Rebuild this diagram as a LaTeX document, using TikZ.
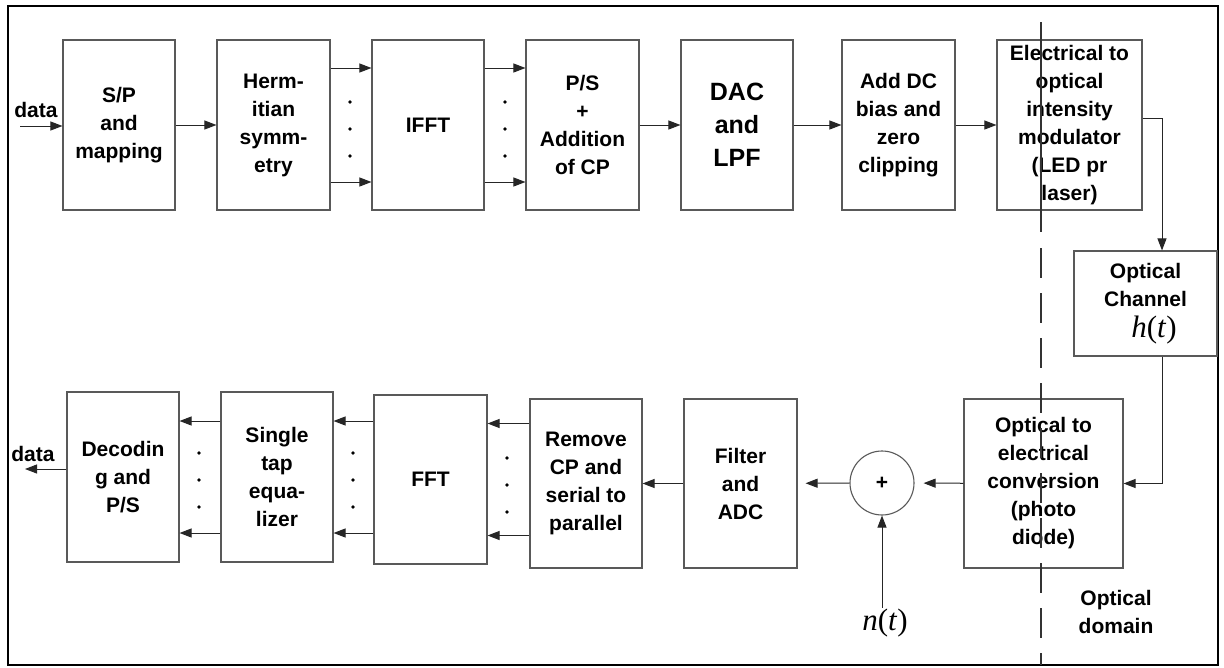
\documentclass[tikz,border=0pt]{standalone}
\usepackage{fontspec}
\setmainfont{Liberation Sans}
\newfontfamily\sigfont{Liberation Serif}
\usetikzlibrary{arrows.meta}

\newcommand{\sigof}[1]{{\sigfont\mdseries\fontsize{31}{31}\selectfont\textit{#1}(\textit{t})}}

\tikzset{
  blk/.style = {draw = black!65, line width = 1.1pt, rectangle, align = center, inner sep = 0pt, font = \bfseries\fontsize{21}{28}\selectfont},
  lbl/.style = {align = center, inner sep = 1pt, font = \bfseries\fontsize{21}{28}\selectfont},
  arr/.style = {-{Triangle[length = 12pt, width = 9pt]}, line width = 1pt, black!85},
}

\begin{document}
\begin{tikzpicture}[x = 1pt, y = -1pt]

\useasboundingbox (0, 0) rectangle (1224, 667);
\draw[line width = 2pt] (8, 6) rectangle (1218, 665);

% transmitter
\node[blk, minimum width = 112, minimum height = 170] (sp) at (119, 125) {S/P\\and\\mapping};
\node[blk, minimum width = 113, minimum height = 170] (herm) at (273.5, 125) {Herm-\\itian\\symm-\\etry};
\node[blk, minimum width = 112, minimum height = 170] (ifft) at (428, 125) {IFFT};
\node[blk, minimum width = 113, minimum height = 170] (ps) at (582.5, 125) {P/S\\+\\Addition\\of CP};
\node[blk, minimum width = 112, minimum height = 170, font = \bfseries\fontsize{25}{33}\selectfont] (dac) at (737, 125) {DAC\\and\\LPF};
\node[blk, minimum width = 113, minimum height = 170] (dcb) at (898.5, 125) {Add DC\\bias and\\zero\\clipping};
\node[blk, minimum width = 145, minimum height = 170] (eo) at (1069.5, 125) {Electrical to\\optical\\intensity\\modulator\\(LED pr\\laser)};

% channel
\node[blk, minimum width = 143, minimum height = 105] (chan) at (1145.5, 303.5) {Optical\\Channel\\[3pt]\hspace*{17pt}\sigof{h}};

% receiver
\node[blk, minimum width = 159, minimum height = 169] (oe) at (1043.5, 483.5) {Optical to\\electrical\\conversion\\(photo\\diode)};
\node[draw = black!65, line width = 1.1pt, circle, minimum size = 64, inner sep = 0pt, font = \bfseries\fontsize{21}{21}\selectfont] (sum) at (882, 483) {+};
\node[blk, minimum width = 113, minimum height = 169] (filt) at (740.5, 483.5) {Filter\\and\\ADC};
\node[blk, minimum width = 112, minimum height = 169] (rcp) at (586, 483.5) {Remove\\CP and\\serial to\\parallel};
\node[blk, minimum width = 113, minimum height = 169] (fft) at (430.5, 479.5) {FFT};
\node[blk, minimum width = 112, minimum height = 170] (eq) at (277, 477) {Single\\tap\\equa-\\lizer};
\node[blk, minimum width = 112, minimum height = 170] (dec) at (123, 477) {Decodin\\g and\\P/S};

\node[lbl] (datain) at (36, 110) {data};
\node[lbl] (dataout) at (33, 454) {data};
\node[lbl] (dom) at (1116, 612) {Optical\\domain};
\node[inner sep = 1pt] (nt) at (885, 623) {\sigof{n}};

% optical domain border
\draw[black!80, line width = 1.4pt] (1041, 22) -- (1041, 232);
\draw[black!80, line width = 1.4pt, dash pattern = on 30pt off 15pt] (1041, 248) -- (1041, 665);

\coordinate (din) at (20, 126);
\coordinate (dout) at (25, 469);

\draw[arr] (din) -- (din -| sp.west);
\draw[arr] (sp) -- (herm);
\foreach \a/\b in {herm/ifft, ifft/ps}
  \foreach \s in {57, -57}
    \draw[arr] ([yshift = \s pt]\a.east) -- ([yshift = \s pt]\b.west);
\draw[arr] (ps) -- (dac);
\draw[arr] (dac) -- (dcb);
\draw[arr] (dcb) -- (eo);
\draw[arr] ([yshift = 7pt]eo.east) -| ([xshift = 16.5pt]chan.north);
\draw[arr] ([xshift = 16.5pt]chan.south) |- (oe.east);
\draw[arr, shorten > = 9pt] (oe) -- (sum);
\draw[arr, shorten > = 8pt] (sum) -- (filt);
\draw[arr] (sum |- nt.north) -- (sum);
\draw[arr] (filt) -- (rcp);
\foreach \a/\b in {rcp/fft, fft/eq, eq/dec}
  \foreach \s in {56, -56} {
    \path ([yshift = \s pt]\b.east) coordinate (tip);
    \draw[arr] (\a.west |- tip) -- (tip);
  }
\draw[arr] (dec.west |- dout) -- (dout);

% dots between parallel lines
\foreach \x/\y in {350/129, 505/129, 199/480, 353/480, 507/485}
  \foreach \d in {-27, 0, 27}
    \fill (\x, \y + \d) circle (1.8);

\end{tikzpicture}
\end{document}
